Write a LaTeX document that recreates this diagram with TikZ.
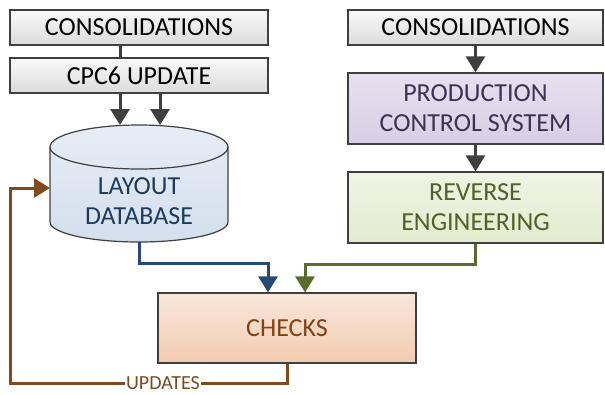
\documentclass[tikz,border=0pt]{standalone}
\usepackage{fontspec}
\setmainfont{Carlito}
\usetikzlibrary{arrows.meta,calc}
\definecolor{edgegray}{HTML}{3F3F3F}
\definecolor{dbtext}{HTML}{1F3B5C}
\definecolor{pcstext}{HTML}{3F3151}
\definecolor{revtext}{HTML}{4F6228}
\definecolor{chktext}{HTML}{7F4316}
\definecolor{bluelink}{HTML}{244A75}
\definecolor{greenlink}{HTML}{5A6B2E}
\definecolor{brownlink}{HTML}{7F4A1E}
\tikzset{>={Triangle[width=19pt,length=16pt]}}
\tikzstyle{greybox}=[rectangle,draw=edgegray,line width=1.2pt,top color=gray!5,bottom color=gray!28,minimum height=35pt,minimum width=258pt,inner sep=0pt]
\tikzstyle{pcsbox}=[rectangle,draw=edgegray,line width=1.2pt,top color={rgb,255:red,232;green,224;blue,240},bottom color={rgb,255:red,216;green,206;blue,230},minimum height=71pt,minimum width=255pt,align=center,text=pcstext]
\tikzstyle{revbox}=[rectangle,draw=edgegray,line width=1.2pt,top color={rgb,255:red,240;green,244;blue,228},bottom color={rgb,255:red,226;green,235;blue,207},minimum height=71pt,minimum width=255pt,align=center,text=revtext]
\tikzstyle{chkbox}=[rectangle,draw=edgegray,line width=1.2pt,top color={rgb,255:red,249;green,231;blue,218},bottom color={rgb,255:red,243;green,204;blue,176},minimum height=70pt,minimum width=258pt,text=chktext]
\tikzstyle{darkarrow}=[->,edgegray,line width=3pt]

\begin{document}
\begin{tikzpicture}[x=1pt,y=-1pt,font=\fontsize{26}{30}\selectfont]
	\useasboundingbox (0,0) rectangle (605,394);

	% left column
	\node[greybox] (cons1) at (139,27.5) {CONSOLIDATIONS};
	\node[greybox] (cpc) at (139,75.5) {CPC6 UPDATE};

	\draw[draw=edgegray,line width=1.2pt,top color={rgb,255:red,231;green,237;blue,245},bottom color={rgb,255:red,211;green,223;blue,238}]
		(50,147) -- (50,222) arc[start angle=180,end angle=360,x radius=89pt,y radius=20pt]
		-- (228,147) arc[start angle=0,end angle=180,x radius=89pt,y radius=22pt] -- cycle;
	\draw[edgegray,line width=1.2pt] (50,147) arc[start angle=180,end angle=360,x radius=89pt,y radius=22pt];
	\node[text=dbtext,align=center] (layout) at (139,201) {LAYOUT\\DATABASE};
	\coordinate (dbtop) at (139,125);
	\coordinate (dbbot) at (139,242);
	\coordinate (dbleft) at (50,188);
	\coordinate (turn) at (10,188);

	% right column
	\node[greybox,minimum width=255pt] (cons2) at (475.5,27.5) {CONSOLIDATIONS};
	\node[pcsbox] (pcs) at (475.5,108.5) {PRODUCTION\\CONTROL SYSTEM};
	\node[revbox] (rev) at (475.5,207.5) {REVERSE\\ENGINEERING};

	\node[chkbox] (checks) at (287,328) {CHECKS};

	\draw[edgegray,line width=3pt] ([xshift=-19pt]cons1.south) -- ([xshift=-19pt]cpc.north);
	\draw[darkarrow] ([xshift=-19pt]cpc.south) -- ([xshift=-19pt]cpc.south |- dbtop);
	\draw[darkarrow] ([xshift=21pt]cpc.south) -- ([xshift=21pt]cpc.south |- dbtop);
	\draw[darkarrow] (cons2.south) -- (pcs.north);
	\draw[darkarrow] (pcs.south) -- (rev.north);

	\draw[->,bluelink,line width=3pt] (dbbot) -- ++(0,21) -| ([xshift=-19pt]checks.north);
	\draw[->,greenlink,line width=3pt] (rev.south) -- ++(0,21) -| ([xshift=18pt]checks.north);
	\draw[->,brownlink,line width=3pt] (checks.south) -- ++(0,20) -| (turn) -- (dbleft);
	\node[fill=white,text=brownlink,inner sep=1.5pt,font=\fontsize{20}{24}\selectfont] (upd) at (163,383) {UPDATES};
\end{tikzpicture}
\end{document}
